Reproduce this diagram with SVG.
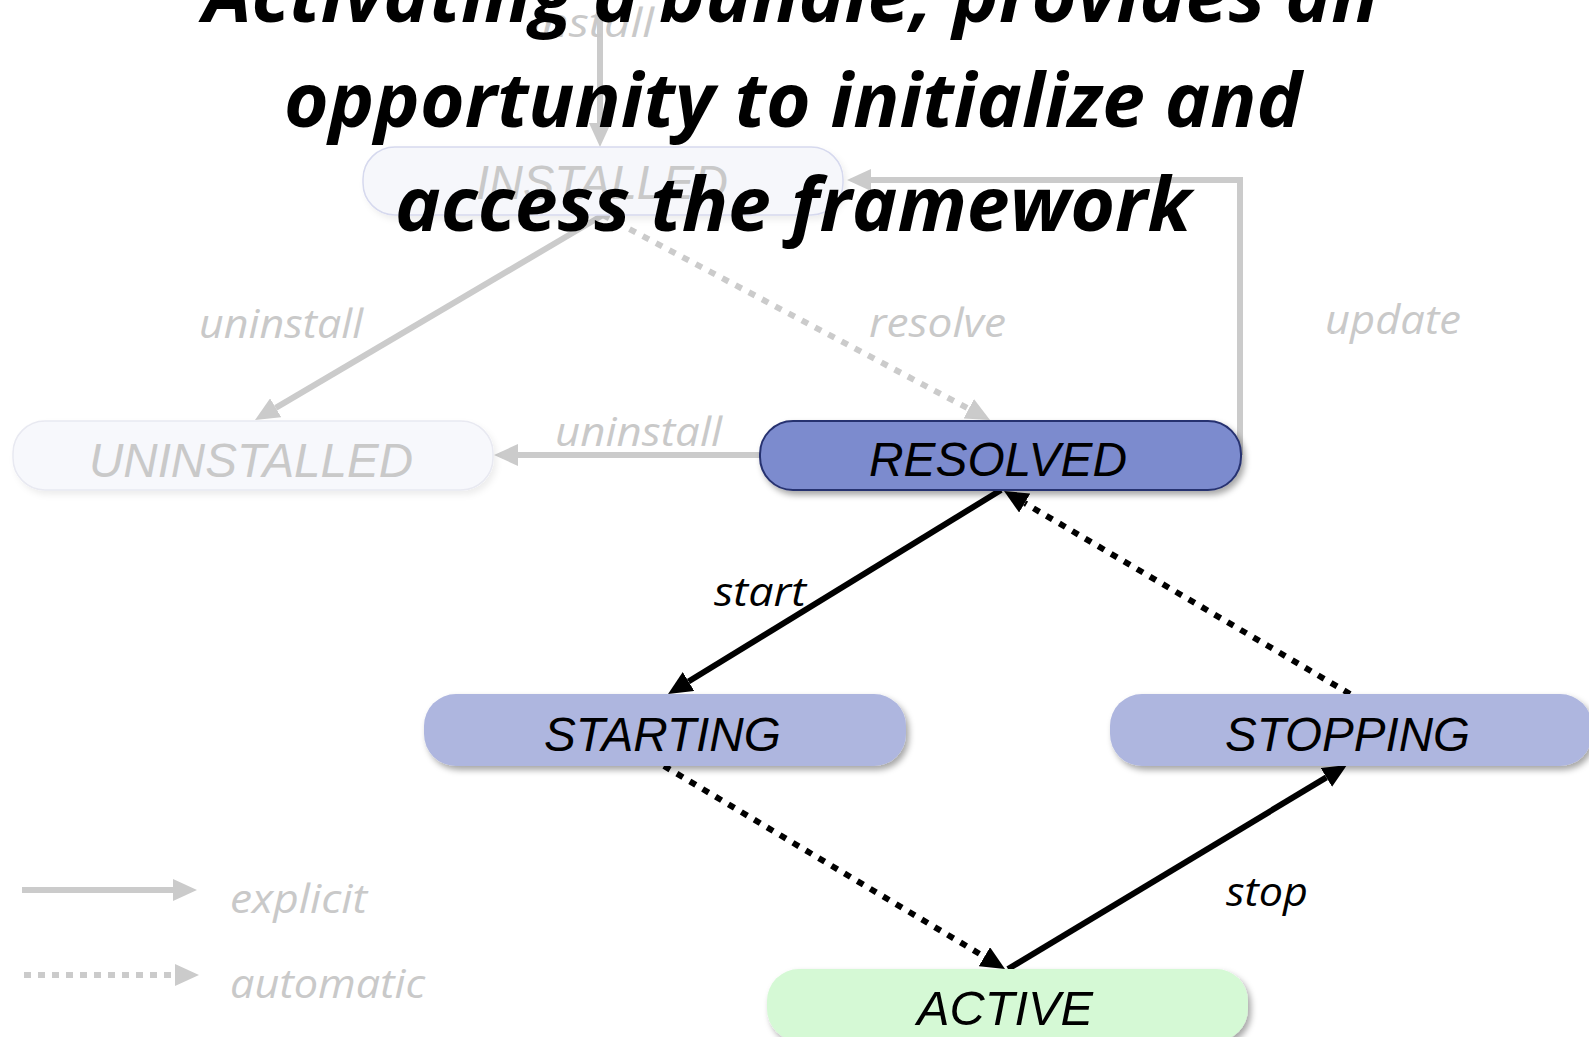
<svg xmlns="http://www.w3.org/2000/svg" width="1589" height="1037" viewBox="0 0 1589 1037">
<style>
.node-text{font-family:"Liberation Sans",Arial,sans-serif;font-style:italic;font-size:48px;}
.lbl{font-family:"Open Sans","Noto Sans",sans-serif;font-style:italic;font-size:40px;}
.faint{fill:#c9c9c9;}
.dark{fill:#000;}
.title{font-family:"Open Sans","Noto Sans",sans-serif;font-style:italic;font-weight:700;font-size:76px;fill:#000;}
.gline{fill:none;stroke:#cbcbcb;stroke-width:6;}
.bline{fill:none;stroke:#000;stroke-width:6;}
.dots{stroke-dasharray:7 8;}
</style>
<defs>
<marker id="ag" viewBox="0 0 24 22" refX="0" refY="11" markerWidth="24" markerHeight="22" markerUnits="userSpaceOnUse" orient="auto"><path d="M0,0 L24,11 L0,22 z" fill="#cbcbcb"/></marker>
<marker id="ab" viewBox="0 0 24 22" refX="0" refY="11" markerWidth="24" markerHeight="22" markerUnits="userSpaceOnUse" orient="auto"><path d="M0,0 L24,11 L0,22 z" fill="#000"/></marker>
<filter id="sh" x="-10%" y="-30%" width="130%" height="180%"><feDropShadow dx="3" dy="4" stdDeviation="3" flood-color="#000" flood-opacity="0.35"/></filter>
<filter id="shf" x="-10%" y="-30%" width="130%" height="180%"><feDropShadow dx="3" dy="4" stdDeviation="3" flood-color="#000" flood-opacity="0.07"/></filter>
</defs>

<g id="connectors">
<path class="gline" d="M600,0 V123" stroke-width="5" marker-end="url(#ag)"/>
<text class="lbl faint" x="530" y="37" textLength="124" lengthAdjust="spacingAndGlyphs">install</text>
<path class="gline" d="M603,215 L275.7,407.8" marker-end="url(#ag)"/>
<text class="lbl faint" x="199" y="338" textLength="164" lengthAdjust="spacingAndGlyphs">uninstall</text>
<path class="gline dots" d="M603,215 L968.8,408.8" marker-end="url(#ag)"/>
<text class="lbl faint" x="869" y="337" textLength="137" lengthAdjust="spacingAndGlyphs">resolve</text>
<path class="gline" d="M1240,455 V180 H871" marker-end="url(#ag)"/>
<text class="lbl faint" x="1325" y="334" textLength="136" lengthAdjust="spacingAndGlyphs">update</text>
<path class="gline" d="M760,455 H518" marker-end="url(#ag)"/>
<text class="lbl faint" x="555" y="446" textLength="167" lengthAdjust="spacingAndGlyphs">uninstall</text>
<path class="bline" d="M1001,490 L688.5,681.5" marker-end="url(#ab)"/>
<text class="lbl dark" x="714" y="606" textLength="92" lengthAdjust="spacingAndGlyphs">start</text>
<path class="bline dots" d="M1350,694 L1024.7,503.1" marker-end="url(#ab)"/>
<path class="bline dots" d="M664,766 L984.4,956.7" marker-end="url(#ab)"/>
<path class="bline" d="M1008,969 L1326.4,777.4" marker-end="url(#ab)"/>
<text class="lbl dark" x="1226" y="906" textLength="82" lengthAdjust="spacingAndGlyphs">stop</text>
</g>

<g id="legend">
<path class="gline" d="M22,890 H173" stroke-width="7" marker-end="url(#ag)"/>
<text class="lbl faint" x="230" y="913" textLength="137" lengthAdjust="spacingAndGlyphs">explicit</text>
<path class="gline" d="M24,975 H175" stroke-width="7" stroke-dasharray="7 7" marker-end="url(#ag)"/>
<text class="lbl faint" x="230" y="998" textLength="195" lengthAdjust="spacingAndGlyphs">automatic</text>
</g>

<g id="installed">
<rect x="363" y="147" width="480" height="68" rx="32" fill="#f6f7fb" stroke="#d6d9ee" stroke-width="1.5" filter="url(#shf)"/>
<text class="node-text faint" x="476" y="199" textLength="252" lengthAdjust="spacingAndGlyphs">INSTALLED</text>
</g>
<g id="uninstalled">
<rect x="13" y="421" width="480" height="69" rx="32" fill="#f7f8fc" stroke="#e8e9f1" stroke-width="1.5" filter="url(#shf)"/>
<text class="node-text faint" x="89" y="477" textLength="324" lengthAdjust="spacingAndGlyphs">UNINSTALLED</text>
</g>
<g id="resolved">
<rect x="760" y="421" width="481" height="69" rx="33" fill="#7b8bce" stroke="#283270" stroke-width="2" filter="url(#sh)"/>
<text class="node-text dark" x="869" y="476" textLength="258" lengthAdjust="spacingAndGlyphs">RESOLVED</text>
</g>
<g id="starting">
<rect x="424" y="694" width="482" height="72" rx="32" fill="#aeb6df" filter="url(#sh)"/>
<text class="node-text dark" x="544" y="751" textLength="237" lengthAdjust="spacingAndGlyphs">STARTING</text>
</g>
<g id="stopping">
<rect x="1110" y="694" width="482" height="72" rx="32" fill="#aeb6df" filter="url(#sh)"/>
<text class="node-text dark" x="1225" y="751" textLength="245" lengthAdjust="spacingAndGlyphs">STOPPING</text>
</g>
<g id="active">
<rect x="767" y="969" width="481" height="72" rx="32" fill="#d5f9d5" filter="url(#sh)"/>
<text class="node-text dark" x="917" y="1025" textLength="176" lengthAdjust="spacingAndGlyphs">ACTIVE</text>
</g>

<g id="title">
<text class="title" x="203" y="22" textLength="1175" lengthAdjust="spacingAndGlyphs">Activating a bundle, provides an</text>
<text class="title" x="284" y="127" textLength="1018" lengthAdjust="spacingAndGlyphs">opportunity to initialize and</text>
<text class="title" x="395" y="231" textLength="796" lengthAdjust="spacingAndGlyphs">access the framework</text>
</g>
</svg>
